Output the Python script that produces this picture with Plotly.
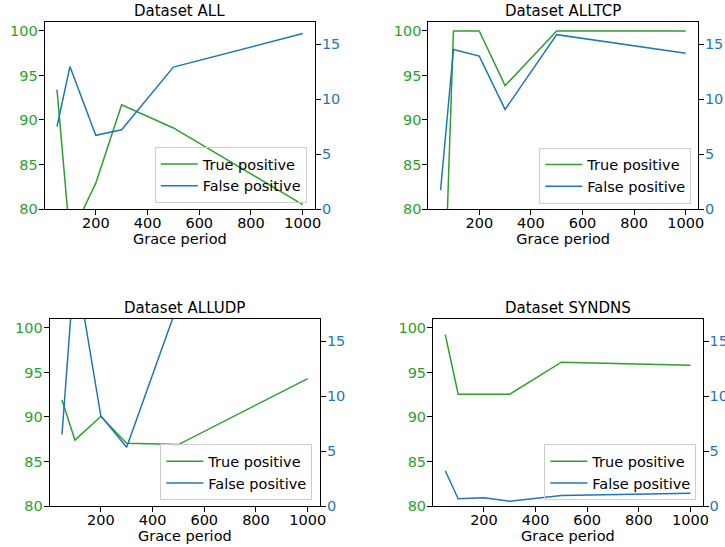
import plotly.graph_objects as go

# ---- data ----
grace = [50, 100, 200, 300, 500, 1000]
titles = ["Dataset ALL", "Dataset ALLTCP", "Dataset ALLUDP", "Dataset SYNDNS"]
tp_all = [93.4, 76.8, 82.9, 91.7, 89.1, 80.5]
fp_all = [7.5, 12.95, 6.7, 7.2, 12.9, 15.95]
tp_alltcp = [57.0, 100.0, 100.0, 93.85, 100.0, 100.0]
fp_alltcp = [1.7, 14.5, 13.9, 9.05, 15.85, 14.15]
tp_alludp = [91.9, 87.4, 90.05, 87.05, 86.9, 94.3]
fp_alludp = [6.5, 22.3, 8.2, 5.35, 18.5, 22.0]
tp_syndns = [99.25, 92.55, 92.55, 92.55, 96.15, 95.8]
fp_syndns = [3.2, 0.65, 0.75, 0.43, 0.95, 1.15]
x_ticks = [200, 400, 600, 800, 1000]
tp_ticks = [80, 85, 90, 95, 100]
fp_ticks = [0, 5, 10, 15]

tp_sets = [tp_all, tp_alltcp, tp_alludp, tp_syndns]
fp_sets = [fp_all, fp_alltcp, fp_alludp, fp_syndns]

GREEN = "#2ca02c"
BLUE = "#1f77b4"
FONT = "DejaVu Sans"
W, H = 725, 547

# panel pixel boxes: (left, right, top, bottom)
boxes = [
    (44.7, 315.0, 22.0, 209.0),
    (428.3, 698.0, 22.0, 209.0),
    (49.7, 320.0, 319.0, 506.0),
    (433.0, 702.7, 319.0, 506.0),
]
# legend boxes (right px, bottom px)
leg_pos = [(306.7, 203.0), (691.3, 203.5), (312.3, 500.3), (696.3, 500.3)]

fig = go.Figure()
layout = dict(
    width=W, height=H,
    margin=dict(l=0, r=0, t=0, b=0, autoexpand=False),
    paper_bgcolor="white", plot_bgcolor="white",
    font=dict(family=FONT, size=14, color="black"),
    annotations=[],
)

for i in range(4):
    n = i + 1
    xa = "x" if n == 1 else f"x{n}"
    ya = "y" if n == 1 else f"y{n}"
    ya2 = f"y{n+4}"
    leg = "legend" if n == 1 else f"legend{n}"
    fig.add_trace(go.Scatter(x=grace, y=tp_sets[i], mode="lines", name="True positive",
                             line=dict(color=GREEN, width=1.5), xaxis=xa, yaxis=ya, legend=leg))
    fig.add_trace(go.Scatter(x=grace, y=fp_sets[i], mode="lines", name="False positive",
                             line=dict(color=BLUE, width=1.5), xaxis=xa, yaxis=ya2, legend=leg))
    l, r, t, b = boxes[i]
    xd = [l / W, r / W]
    yd = [(H - b) / H, (H - t) / H]
    xkey = "xaxis" if n == 1 else f"xaxis{n}"
    ykey = "yaxis" if n == 1 else f"yaxis{n}"
    layout[xkey] = dict(
        domain=xd, anchor=ya, range=[2.5, 1047.5], tickvals=x_ticks, automargin=False,
        showline=True, linecolor="black", linewidth=1, mirror=True,
        ticks="outside", ticklen=5, tickcolor="black", showgrid=False, zeroline=False,
        ticklabelstandoff=-4,
        tickfont=dict(size=14.5, color="black"),
        title=dict(text="Grace period", font=dict(size=14.5), standoff=3),
    )
    layout[ykey] = dict(
        domain=yd, anchor=xa, range=[80, 101], tickvals=tp_ticks, automargin=False,
        showline=True, linecolor="black", linewidth=1, mirror=True,
        ticks="outside", ticklen=5, tickcolor="black", showgrid=False, zeroline=False,
        ticklabelstandoff=-2,
        tickfont=dict(size=14.5, color=GREEN),
    )
    layout[f"yaxis{n+4}"] = dict(
        overlaying=ya, anchor=xa, side="right", range=[0, 17], tickvals=fp_ticks,
        automargin=False,
        showline=True, linecolor="black", linewidth=1,
        ticks="outside", ticklen=5, tickcolor="black", showgrid=False, zeroline=False,
        ticklabelstandoff=-2,
        tickfont=dict(size=14.5, color=BLUE),
    )
    lx, lb = leg_pos[i]
    layout[leg] = dict(
        x=lx / W, y=(H - lb) / H, xanchor="right", yanchor="bottom",
        xref="paper", yref="paper",
        bgcolor="rgba(255,255,255,0)", bordercolor="#cccccc", borderwidth=1,
        font=dict(size=14.5), tracegroupgap=0, itemwidth=37,
    )
    layout["annotations"].append(dict(
        text=titles[i], x=(xd[0] + xd[1]) / 2, y=yd[1], xref="paper", yref="paper",
        xanchor="center", yanchor="bottom", yshift=0, showarrow=False,
        font=dict(size=15, color="black"),
    ))

fig.update_layout(**layout)
fig.write_html(
    "out.html",
    config={"displayModeBar": False},
    post_script="document.body.style.margin='0';document.body.style.padding='0';",
)
